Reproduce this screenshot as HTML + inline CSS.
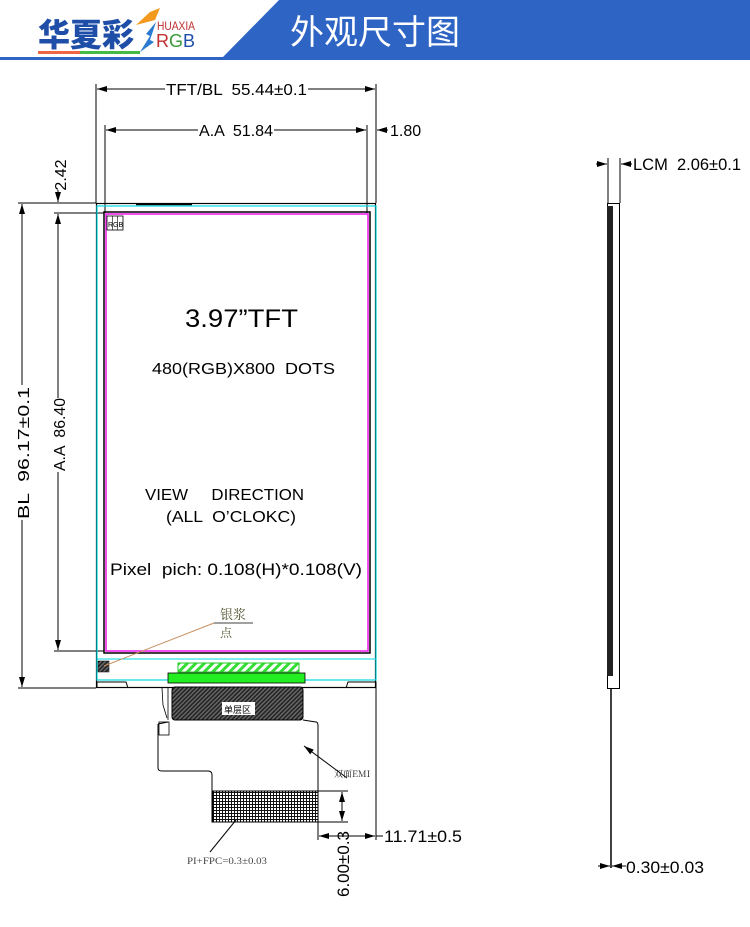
<!DOCTYPE html>
<html><head><meta charset="utf-8"><style>
html,body{margin:0;padding:0;background:#fff;}
body{width:750px;height:927px;overflow:hidden;position:relative;}
svg{position:absolute;left:0;top:0;}
svg text{white-space:pre;}
</style></head><body>
<svg width="750" height="927" viewBox="0 0 750 927" xmlns="http://www.w3.org/2000/svg" font-family="'Liberation Sans','DejaVu Sans',sans-serif" xml:space="preserve">
<defs>
<pattern id="hg" width="6" height="6" patternUnits="userSpaceOnUse" patternTransform="rotate(45)"><rect width="6" height="6" fill="#fff"/><rect width="3" height="6" fill="#33dd33"/></pattern>
<pattern id="hd" width="3" height="3" patternUnits="userSpaceOnUse" patternTransform="rotate(45)"><rect width="3" height="3" fill="#666"/><rect width="1.5" height="3" fill="#222"/></pattern>
<pattern id="grid" width="3" height="3" patternUnits="userSpaceOnUse"><rect width="3" height="3" fill="#fff"/><rect width="3" height="1" fill="#111"/><rect width="1" height="3" fill="#111"/></pattern>
<marker id="a" viewBox="0 0 10 6" refX="10" refY="3" markerWidth="10" markerHeight="6" orient="auto-start-reverse" markerUnits="userSpaceOnUse"><path d="M0,0 L10,3 L0,6 z" fill="#000"/></marker>
</defs>
<polygon points="279,0 750,0 750,58 222,58" fill="#2e65c5"/>
<rect x="0" y="57" width="750" height="3" fill="#2e65c5"/>
<text x="38" y="46" font-family="'Noto Sans CJK SC',sans-serif" font-weight="900" font-size="32" fill="#1e4ea8">华夏彩</text>
<rect x="38" y="51" width="100" height="3" fill="#e64"/>
<rect x="80" y="51" width="60" height="3" fill="#4b4"/>
<path d="M136,25 L150,12 L160,8 L155,20 Z" fill="#f39a1e"/>
<path d="M140,52 L150,36 L146,34 L156,22 L150,40 L154,42 Z" fill="#2a7ad0"/>
<text x="157" y="30" font-size="12" fill="#c03030" textLength="38" lengthAdjust="spacingAndGlyphs">HUAXIA</text>
<text x="156" y="47" font-size="18" fill="#c03030">R<tspan fill="#3a9a3a">G</tspan><tspan fill="#1e4ea8">B</tspan></text>
<text x="290" y="44" font-family="'Noto Sans CJK SC',sans-serif" font-size="34" fill="#fff">外观尺寸图</text>

<g stroke="#000" stroke-width="1" fill="none">
<line x1="96" y1="84" x2="96" y2="203"/><line x1="376" y1="84" x2="376" y2="203"/>
<line x1="97" y1="89" x2="165" y2="89" marker-start="url(#a)"/><line x1="308" y1="89" x2="375" y2="89" marker-end="url(#a)"/>
<line x1="105" y1="125" x2="105" y2="213"/><line x1="367" y1="125" x2="367" y2="213"/>
<line x1="106" y1="130" x2="198" y2="130" marker-start="url(#a)"/><line x1="274" y1="130" x2="366" y2="130" marker-end="url(#a)"/>
<line x1="388" y1="130" x2="377" y2="130" marker-end="url(#a)"/>
<line x1="18" y1="203" x2="96" y2="203"/><line x1="18" y1="688" x2="96" y2="688"/>
<line x1="22" y1="204" x2="22" y2="385" marker-start="url(#a)"/><line x1="22" y1="520" x2="22" y2="687" marker-end="url(#a)"/>
<line x1="54" y1="213" x2="104" y2="213"/><line x1="54" y1="651" x2="104" y2="651"/>
<line x1="58" y1="214" x2="58" y2="398" marker-start="url(#a)"/><line x1="58" y1="472" x2="58" y2="650" marker-end="url(#a)"/>
<line x1="58" y1="190" x2="58" y2="202" marker-end="url(#a)"/>
</g>
<text x="166" y="95" font-size="16" textLength="141" lengthAdjust="spacingAndGlyphs">TFT/BL  55.44±0.1</text>
<text x="199" y="136" font-size="16" textLength="74" lengthAdjust="spacingAndGlyphs">A.A  51.84</text>
<text x="390" y="136" font-size="16">1.80</text>
<text transform="translate(66,175) rotate(-90)" font-size="16" text-anchor="middle">2.42</text>
<text transform="translate(29,519) rotate(-90)" font-size="16" textLength="132" lengthAdjust="spacingAndGlyphs">BL  96.17±0.1</text>
<text transform="translate(65,471) rotate(-90)" font-size="16" textLength="73" lengthAdjust="spacingAndGlyphs">A.A  86.40</text>

<rect x="96.5" y="203.5" width="279" height="484" fill="none" stroke="#000" stroke-width="1.2"/>
<line x1="136" y1="204.5" x2="192" y2="204.5" stroke="#000" stroke-width="1.5"/>
<rect x="97" y="206" width="279" height="474" fill="none" stroke="#00d8e0" stroke-width="1.2"/>
<line x1="97" y1="659" x2="376" y2="659" stroke="#00d8e0" stroke-width="1"/>
<rect x="104" y="212" width="266" height="441" fill="none" stroke="#000" stroke-width="1.5"/>
<rect x="106" y="214" width="262" height="437" fill="none" stroke="#ee22ee" stroke-width="1.6"/>
<rect x="107" y="216" width="16" height="14" fill="none" stroke="#000" stroke-width="0.8"/>
<line x1="112.5" y1="216" x2="112.5" y2="230" stroke="#000" stroke-width="0.6"/><line x1="117.5" y1="216" x2="117.5" y2="230" stroke="#000" stroke-width="0.6"/>
<text x="108" y="227" font-size="7">RGB</text>
<rect x="98" y="661" width="11" height="11" fill="url(#hd)" stroke="#000" stroke-width="0.5"/>
<line x1="104" y1="666" x2="214" y2="623" stroke="#c89060" stroke-width="1"/>
<line x1="214" y1="623" x2="253" y2="623" stroke="#000" stroke-width="0.8"/>
<text x="220" y="619" font-family="'Noto Serif CJK SC',serif" font-size="13" fill="#553">银浆</text>
<text x="220" y="637" font-family="'Noto Serif CJK SC',serif" font-size="12" fill="#553">点</text>
<path d="M97,688 L97,682 L126,682 L128,688 M376,688 L376,682 L348,682 L346,688" fill="none" stroke="#000" stroke-width="1"/>

<text x="185" y="327" font-size="25" textLength="113" lengthAdjust="spacingAndGlyphs">3.97”TFT</text>
<text x="152" y="374" font-size="16" textLength="183" lengthAdjust="spacingAndGlyphs">480(RGB)X800  DOTS</text>
<text x="145" y="500" font-size="16" textLength="159" lengthAdjust="spacingAndGlyphs">VIEW     DIRECTION</text>
<text x="166" y="522" font-size="16" textLength="130" lengthAdjust="spacingAndGlyphs">(ALL  O’CLOKC)</text>
<text x="110" y="575" font-size="17" textLength="252" lengthAdjust="spacingAndGlyphs">Pixel  pich: 0.108(H)*0.108(V)</text>

<rect x="178" y="663" width="121" height="9" fill="url(#hg)" stroke="#22cc22" stroke-width="1"/>
<rect x="168" y="673" width="137" height="10" fill="#22ee22" stroke="#000" stroke-width="0.8"/>
<rect x="172" y="687" width="131" height="33" rx="3" fill="url(#hd)" stroke="#000"/>
<rect x="222" y="702" width="33" height="13" fill="#fff"/>
<text x="224" y="713" font-family="'Noto Sans CJK SC',sans-serif" font-size="9">单层区</text>
<path d="M303,720 L316,722 Q318,722 318,726 L318,822 M158,724 L158,768 Q158,771 162,771 L208,771 Q212,771 212,775 L212,822 L318,822 M158,724 L168,722" fill="none" stroke="#000" stroke-width="1"/>
<path d="M162,688 L163,705 L167,718 M168,688 L168,720" fill="none" stroke="#000" stroke-width="0.8"/>
<rect x="159" y="722" width="10" height="13" fill="none" stroke="#000" stroke-width="0.8"/>
<rect x="213" y="791" width="105" height="31" fill="url(#grid)" stroke="#000"/>
<line x1="347" y1="778" x2="304" y2="746" stroke="#000" marker-end="url(#a)"/>
<text x="334" y="777" font-family="'Noto Serif CJK SC',serif" font-size="9" fill="#222">双面EMI</text>
<line x1="236" y1="820" x2="210" y2="852" stroke="#000"/>
<text x="187" y="864" font-family="'Liberation Serif',serif" font-size="9" fill="#444" textLength="80" lengthAdjust="spacingAndGlyphs">PI+FPC=0.3±0.03</text>
<g stroke="#000" fill="none">
<line x1="318" y1="791" x2="348" y2="791"/><line x1="318" y1="822" x2="348" y2="822"/>
<line x1="342" y1="792" x2="342" y2="821" marker-start="url(#a)" marker-end="url(#a)"/>
<line x1="318" y1="822" x2="318" y2="840"/><line x1="376" y1="688" x2="376" y2="840"/>
<line x1="319" y1="836" x2="375" y2="836" marker-start="url(#a)" marker-end="url(#a)"/>
<line x1="376" y1="836" x2="383" y2="836"/>
</g>
<text x="384" y="842" font-size="17" textLength="78" lengthAdjust="spacingAndGlyphs">11.71±0.5</text>
<text transform="translate(349,897) rotate(-90)" font-size="17" textLength="66" lengthAdjust="spacingAndGlyphs">6.00±0.3</text>

<g stroke="#000" fill="none">
<line x1="608" y1="158" x2="608" y2="203"/><line x1="620" y1="158" x2="620" y2="203"/>
<line x1="596" y1="164" x2="607" y2="164" marker-end="url(#a)"/><line x1="632" y1="164" x2="621" y2="164" marker-end="url(#a)"/>
<rect x="607.5" y="203.5" width="12" height="485"/>
<line x1="611" y1="688" x2="611" y2="868" stroke-width="1.5"/>
<line x1="598" y1="866" x2="610" y2="866" marker-end="url(#a)"/><line x1="626" y1="866" x2="612" y2="866" marker-end="url(#a)"/>
</g>
<rect x="607" y="206" width="6" height="470" fill="#222"/>
<rect x="608" y="204" width="6" height="2" fill="#fff"/>
<text x="633" y="170" font-size="17" textLength="108" lengthAdjust="spacingAndGlyphs">LCM  2.06±0.1</text>
<text x="626" y="873" font-size="17" textLength="78" lengthAdjust="spacingAndGlyphs">0.30±0.03</text>
</svg>
</body></html>
